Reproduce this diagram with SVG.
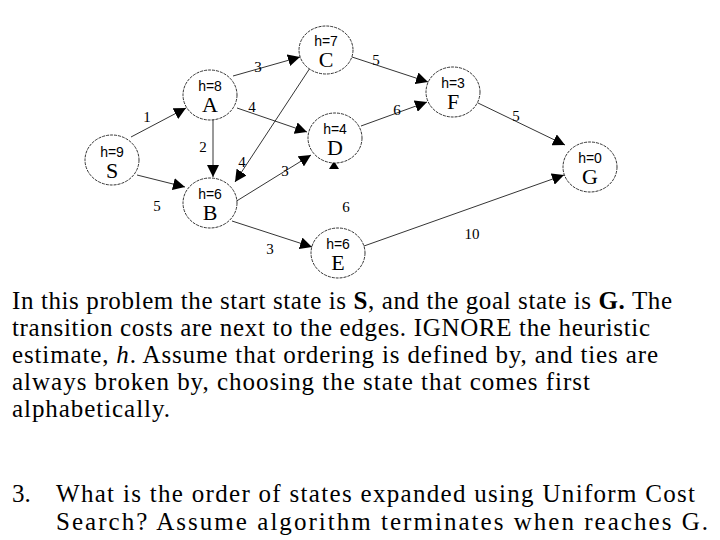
<svg xmlns="http://www.w3.org/2000/svg" width="720" height="540" viewBox="0 0 720 540">
<style>
.n ellipse{fill:#fff;stroke:#000;stroke-width:0.8;stroke-dasharray:3 1}
.h{font-family:"Liberation Sans",Arial,sans-serif;font-size:14px;text-anchor:middle}
.l{font-family:"Liberation Serif","Times New Roman",serif;font-size:22px;text-anchor:middle}
.e line{stroke:#000;stroke-width:0.8;marker-end:url(#ar)}
.w{font-family:"Liberation Serif","Times New Roman",serif;font-size:15px;text-anchor:middle}
.t{font-family:"Liberation Serif","Times New Roman",serif;font-size:25px}
</style>
<defs><marker id="ar" viewBox="0 0 10 10" refX="10" refY="5" markerWidth="12" markerHeight="12" markerUnits="userSpaceOnUse" orient="auto"><path d="M0,0L10,5L0,10z"/></marker></defs>
<rect width="720" height="540" fill="#fff"/>
<g class="e" id="edges">
<line x1="131" y1="137" x2="186" y2="108"/>
<line x1="137" y1="175" x2="185" y2="187"/>
<line x1="213" y1="116" x2="213" y2="177"/>
<line x1="233" y1="76" x2="300" y2="57"/>
<line x1="237" y1="108" x2="307" y2="132"/>
<line x1="310" y1="68" x2="235" y2="182"/>
<line x1="235" y1="202" x2="311" y2="155"/>
<line x1="232" y1="221" x2="312" y2="247"/>
<line x1="352" y1="57" x2="428" y2="82"/>
<line x1="361" y1="126" x2="427" y2="102"/>
<line x1="478" y1="103" x2="565" y2="145"/>
<line x1="364" y1="246" x2="564" y2="175"/>
<path d="M334,161L339,169L329,169z"/>
<text class="w" x="147" y="122">1</text>
<text class="w" x="157" y="211">5</text>
<text class="w" x="203" y="152">2</text>
<text class="w" x="258" y="72">3</text>
<text class="w" x="252" y="112">4</text>
<text class="w" x="242" y="167">4</text>
<text class="w" x="285" y="176">3</text>
<text class="w" x="270" y="254">3</text>
<text class="w" x="376" y="65">5</text>
<text class="w" x="397" y="115">6</text>
<text class="w" x="516" y="121">5</text>
<text class="w" x="346" y="212">6</text>
<text class="w" x="472" y="239">10</text>
</g>
<g class="n" id="S"><ellipse cx="112" cy="160" rx="27" ry="25"/><text class="h" x="112" y="157">h=9</text><text class="l" x="112" y="178">S</text></g>
<g class="n" id="A"><ellipse cx="210" cy="95" rx="27" ry="25"/><text class="h" x="210" y="91">h=8</text><text class="l" x="210" y="112">A</text></g>
<g class="n" id="B"><ellipse cx="210" cy="203" rx="27" ry="25"/><text class="h" x="210" y="199">h=6</text><text class="l" x="210" y="220">B</text></g>
<g class="n" id="C"><ellipse cx="326" cy="50" rx="27" ry="24"/><text class="h" x="326" y="46">h=7</text><text class="l" x="326" y="67">C</text></g>
<g class="n" id="D"><ellipse cx="335" cy="138" rx="27" ry="25"/><text class="h" x="335" y="134">h=4</text><text class="l" x="335" y="155">D</text></g>
<g class="n" id="E"><ellipse cx="338" cy="253" rx="27" ry="25"/><text class="h" x="338" y="249">h=6</text><text class="l" x="338" y="270">E</text></g>
<g class="n" id="F"><ellipse cx="453" cy="92" rx="27" ry="25"/><text class="h" x="453" y="88">h=3</text><text class="l" x="453" y="109">F</text></g>
<g class="n" id="G"><ellipse cx="590" cy="167" rx="27" ry="25"/><text class="h" x="590" y="163">h=0</text><text class="l" x="590" y="184">G</text></g>
<g class="t">
<text x="12" y="309" textLength="660" lengthAdjust="spacing">In this problem the start state is <tspan font-weight="bold">S</tspan>, and the goal state is <tspan font-weight="bold">G.</tspan> The</text>
<text x="12" y="336" textLength="638" lengthAdjust="spacing">transition costs are next to the edges. IGNORE the heuristic</text>
<text x="12" y="363" textLength="646" lengthAdjust="spacing">estimate, <tspan font-style="italic">h</tspan>. Assume that ordering is defined by, and ties are</text>
<text x="12" y="390" textLength="578" lengthAdjust="spacing">always broken by, choosing the state that comes first</text>
<text x="12" y="417" textLength="158" lengthAdjust="spacing">alphabetically.</text>
<text x="12" y="502">3.</text>
<text x="56" y="502" textLength="639" lengthAdjust="spacing">What is the order of states expanded using Uniform Cost</text>
<text x="56" y="530" textLength="652" lengthAdjust="spacing">Search? Assume algorithm terminates when reaches G.</text>
</g>
</svg>
